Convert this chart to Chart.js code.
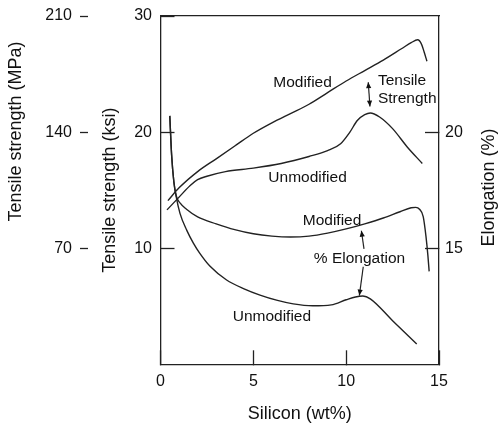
<!DOCTYPE html>
<html>
<head>
<meta charset="utf-8">
<title>Al-Si tensile strength and elongation</title>
<script src="https://cdn.jsdelivr.net/npm/chart.js@4.4.1/dist/chart.umd.min.js"></script>
<style>
  body { margin: 0; background: #fff; }
  canvas { display: block; }
</style>
</head>
<body>
<canvas id="siChart" width="498" height="423"></canvas>
<script>
// values: silicon (wt%) against strength (ksi) or elongation (%)
const modTsSi  = [0.4, 1.0, 2.0, 3.0, 4.0, 5.0, 6.0, 7.0, 8.0, 9.0, 10.0, 11.0, 12.0, 13.0, 13.5, 13.85, 14.05, 14.2, 14.35];
const modTsKsi = [14.1, 15.2, 16.6, 17.7, 18.8, 19.9, 20.8, 21.6, 22.4, 23.4, 24.4, 25.3, 26.2, 27.2, 27.7, 27.95, 27.6, 26.9, 26.1];

const unmTsSi  = [0.35, 1.0, 1.6, 2.0, 2.5, 3.5, 5.0, 6.5, 8.0, 9.0, 9.7, 10.2, 10.6, 11.0, 11.3, 11.8, 12.5, 13.3, 14.1];
const unmTsKsi = [13.3, 14.4, 15.4, 15.9, 16.2, 16.6, 16.9, 17.3, 17.9, 18.4, 19.0, 20.0, 21.0, 21.5, 21.65, 21.3, 20.3, 18.7, 17.3];

const modElSi  = [0.5, 0.6, 0.72, 0.85, 1.05, 1.4, 2.0, 3.0, 4.0, 5.0, 6.0, 7.0, 8.0, 9.0, 10.0, 11.0, 12.0, 12.9, 13.5, 13.75, 13.95, 14.15, 14.3, 14.4, 14.47];
const modElPct = [20.7, 19.0, 17.85, 17.25, 16.95, 16.68, 16.35, 16.05, 15.8, 15.62, 15.52, 15.48, 15.52, 15.65, 15.83, 16.05, 16.3, 16.57, 16.74, 16.76, 16.68, 16.36, 15.5, 14.7, 14.0];

const unmElSi  = [0.5, 0.6, 0.72, 0.85, 1.05, 1.41, 1.77, 2.1, 2.67, 3.56, 4.5, 5.36, 6.3, 7.15, 8.2, 9.2, 10.0, 10.5, 10.9, 11.3, 12.5, 13.8];
const unmElPct = [20.7, 19.0, 17.85, 17.2, 16.5, 15.78, 15.22, 14.8, 14.22, 13.63, 13.25, 12.98, 12.75, 12.6, 12.52, 12.56, 12.78, 12.9, 12.94, 12.82, 11.88, 10.87];

// tick labels shown on each axis
const siTicks    = [0, 5, 10, 15];
const ksiTicks   = [10, 20, 30];
const mpaTicks   = [70, 140, 210];
const elongTicks = [15, 20];

const FONT = "'Liberation Sans', Arial, Helvetica, sans-serif";
const INK = '#222';

// labels and arrows inside the plot, placed in data units
const notes = [
  { text: 'Modified',     axis: 'yK', x: 7.65,  y: 24.23, align: 'center' },
  { text: 'Tensile',      axis: 'yK', x: 11.71, y: 24.4,  align: 'left' },
  { text: 'Strength',     axis: 'yK', x: 11.71, y: 22.85, align: 'left' },
  { text: 'Unmodified',   axis: 'yK', x: 7.92,  y: 16.05, align: 'center' },
  { text: 'Modified',     axis: 'yE', x: 9.24,  y: 16.17, align: 'center' },
  { text: '% Elongation', axis: 'yE', x: 10.72, y: 14.53, align: 'center' },
  { text: 'Unmodified',   axis: 'yE', x: 6.0,   y: 12.04, align: 'center' }
];
const arrows = [
  { axis: 'yK', from: [11.19, 24.3], to: [11.28, 22.2], both: true },
  { axis: 'yE', from: [10.96, 14.97], to: [10.82, 15.75] },
  { axis: 'yE', from: [10.92, 14.2], to: [10.71, 12.96] }
];

function pts(xs, ys) {
  return xs.map((x, i) => ({ x: x, y: ys[i] }));
}

function showIf(list) {
  return v => list.includes(v) ? String(v) : '';
}

function tickInk(list) {
  return c => (c.tick && list.includes(c.tick.value)) ? INK : 'rgba(0,0,0,0)';
}

// vertical axes: fixed width, and no extra room reserved above/below for labels
function fixWidth(w) {
  return s => {
    s.width = w;
    s.paddingTop = 0;
    s.paddingBottom = 0;
  };
}

function curve(xs, ys, axis) {
  return {
    data: pts(xs, ys),
    yAxisID: axis,
    showLine: true,
    borderColor: INK,
    borderWidth: 1.4,
    pointRadius: 0,
    tension: 0.4,
    cubicInterpolationMode: 'monotone'
  };
}

function head(ctx, x1, y1, x2, y2) {
  const a = Math.atan2(y2 - y1, x2 - x1);
  const len = 6, half = 2.6;
  ctx.beginPath();
  ctx.moveTo(x2, y2);
  ctx.lineTo(x2 - len * Math.cos(a) + half * Math.sin(a), y2 - len * Math.sin(a) - half * Math.cos(a));
  ctx.lineTo(x2 - len * Math.cos(a) - half * Math.sin(a), y2 - len * Math.sin(a) + half * Math.cos(a));
  ctx.closePath();
  ctx.fill();
}

const notesPlugin = {
  id: 'notes',
  afterDatasetsDraw(chart) {
    const { ctx, scales } = chart;
    const sx = scales.x;
    ctx.save();
    ctx.fillStyle = '#111';
    ctx.strokeStyle = INK;
    ctx.lineWidth = 1.2;
    ctx.font = '15.5px ' + FONT;
    ctx.textBaseline = 'middle';
    notes.forEach(n => {
      ctx.textAlign = n.align;
      ctx.fillText(n.text, sx.getPixelForValue(n.x), scales[n.axis].getPixelForValue(n.y));
    });
    arrows.forEach(a => {
      const sy = scales[a.axis];
      const x1 = sx.getPixelForValue(a.from[0]), y1 = sy.getPixelForValue(a.from[1]);
      const x2 = sx.getPixelForValue(a.to[0]), y2 = sy.getPixelForValue(a.to[1]);
      ctx.beginPath();
      ctx.moveTo(x1, y1);
      ctx.lineTo(x2, y2);
      ctx.stroke();
      head(ctx, x1, y1, x2, y2);
      if (a.both) head(ctx, x2, y2, x1, y1);
    });

    // the two side titles that read bottom-to-top outside the built-in spots
    ctx.font = '18px ' + FONT;
    ctx.textAlign = 'center';
    const side = [
      { text: 'Tensile strength (MPa)', x: scales.yM.left + 16, y: chart.chartArea.top + 115.5 },
      { text: 'Elongation (%)', x: scales.yE.right - 9, y: chart.chartArea.top + 171.5 }
    ];
    side.forEach(t => {
      ctx.save();
      ctx.translate(t.x, t.y);
      ctx.rotate(-Math.PI / 2);
      ctx.fillText(t.text, 0, 0);
      ctx.restore();
    });
    ctx.restore();
  }
};

Chart.defaults.font.family = FONT;
Chart.defaults.color = '#111';

const ctx = document.getElementById('siChart').getContext('2d');
const siChart = new Chart(ctx, {
  type: 'scatter',
  data: {
    datasets: [
      curve(modTsSi, modTsKsi, 'yK'),
      curve(unmTsSi, unmTsKsi, 'yK'),
      curve(modElSi, modElPct, 'yE'),
      curve(unmElSi, unmElPct, 'yE')
    ]
  },
  options: {
    responsive: false,
    animation: false,
    devicePixelRatio: 1,
    layout: { padding: 0 },
    plugins: { legend: { display: false }, tooltip: { enabled: false } },
    scales: {
      x: {
        type: 'linear', position: 'bottom', min: 0, max: 15,
        ticks: { stepSize: 5, padding: 22, maxRotation: 0, font: { size: 16 }, callback: showIf(siTicks) },
        grid: { drawOnChartArea: false, tickLength: -14, tickWidth: 1.3, tickColor: tickInk(siTicks) },
        border: { color: INK, width: 1.3 },
        title: { display: true, text: 'Silicon (wt%)', font: { size: 18 }, padding: { top: 0, bottom: -2 } },
        afterFit: s => { s.height = 58.7; }
      },
      xTop: {
        type: 'linear', position: 'top', min: 0, max: 15,
        ticks: { display: false },
        grid: { drawOnChartArea: false, drawTicks: false },
        border: { color: INK, width: 1.3 },
        afterFit: s => { s.height = 16; }
      },
      yM: {
        type: 'linear', position: 'left', weight: 2, min: 0, max: 210,
        ticks: { stepSize: 70, padding: 8, font: { size: 16 }, callback: showIf(mpaTicks) },
        grid: { drawOnChartArea: false, tickLength: 8, tickWidth: 1.3, tickColor: tickInk(mpaTicks) },
        border: { display: false },
        afterFit: fixWidth(88)
      },
      yK: {
        type: 'linear', position: 'left', weight: 1, min: 0, max: 30,
        ticks: { stepSize: 10, padding: 22.5, font: { size: 16 }, callback: showIf(ksiTicks) },
        grid: { drawOnChartArea: false, tickLength: -14, tickWidth: 1.3, tickColor: tickInk(ksiTicks) },
        border: { color: INK, width: 1.3 },
        title: { display: true, text: 'Tensile strength (ksi)', font: { size: 18 }, padding: { top: 11, bottom: 0 } },
        afterFit: fixWidth(72.5)
      },
      yE: {
        type: 'linear', position: 'right', min: 10, max: 25,
        ticks: { stepSize: 5, padding: 20, font: { size: 16 }, callback: showIf(elongTicks) },
        grid: { drawOnChartArea: false, tickLength: -14, tickWidth: 1.3, tickColor: tickInk(elongTicks) },
        border: { color: INK, width: 1.3 },
        afterFit: fixWidth(59)
      }
    }
  },
  plugins: [notesPlugin]
});
</script>
</body>
</html>
